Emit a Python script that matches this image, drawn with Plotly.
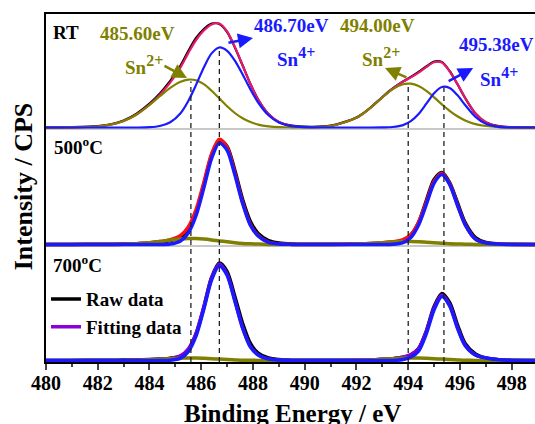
import plotly.graph_objects as go

# ---------------- data (heights above each panel's baseline, arbitrary units) ----------------
energy = [480, 481, 482, 482.5, 483, 483.5, 484, 484.4, 484.8, 485.2, 485.5, 485.8, 486.1, 486.4,
          486.7, 487.0, 487.3, 487.6, 487.9, 488.2, 488.6, 489.0, 489.5, 490, 491, 492, 492.5, 493,
          493.4, 493.8, 494.1, 494.4, 494.7, 495.0, 495.3, 495.6, 495.9, 496.2, 496.6, 497.0, 497.5,
          498, 499]

rt_raw = [0.2, 0.3, 1.3, 3.2, 7.0, 13.8, 23.8, 34.0, 46.5, 62.0,
          76.5, 89.5, 98.5, 104.0, 103.5, 95.5, 80.0, 62.0, 43.5, 28.0,
          13.5, 5.5, 1.8, 0.8, 1.8, 10.0, 19.0, 30.5, 39.0, 46.0,
          50.5, 55.5, 61.0, 66.0, 65.5, 56.5, 43.5, 29.5, 14.0, 5.3,
          1.3, 0.4, 0.2]
rt_fit = [0.0, 0.1, 1.0, 2.8, 6.5, 13.0, 22.8, 32.8, 44.9, 60.1,
          74.4, 87.5, 97.0, 103.0, 104.0, 96.0, 80.5, 62.2, 43.5, 27.9,
          13.4, 5.4, 1.5, 0.4, 1.5, 9.7, 18.8, 30.2, 38.9, 45.7,
          50.1, 54.9, 60.4, 65.2, 65.0, 56.2, 43.6, 29.6, 14.0, 5.2,
          1.1, 0.2, 0.0]
rt_sn2 = [0.0, 0.1, 1.0, 2.8, 6.5, 13.0, 22.5, 31.3, 39.7, 45.8,
          47.9, 47.2, 43.3, 36.8, 29.1, 21.3, 14.5, 9.2, 5.4, 2.9,
          1.2, 0.4, 0.2, 0.1, 1.5, 9.7, 18.8, 30.1, 38.4, 43.3,
          43.8, 41.4, 36.6, 30.1, 23.2, 16.7, 11.2, 7.1, 3.4, 1.5,
          0.4, 0.1, 0.0]
rt_sn4 = [0, 0, 0, 0, 0, 0, 0.3, 1.5, 5.2, 14.3,
          26.5, 42.6, 60.1, 74.1, 80.0, 76.7, 66.9, 53.0, 38.1, 25.0,
          12.2, 5.0, 1.3, 0.3, 0, 0, 0, 0.1, 0.5, 2.4,
          6.3, 13.5, 23.8, 34.3, 40.5, 39.5, 32.4, 22.5, 10.6, 3.7,
          0.7, 0.1, 0]

t500_raw = [0.1, 0.1, 0.2, 0.3, 0.4, 0.8, 1.5, 2.5, 4.0, 7.5,
            15.0, 32.0, 60.0, 89.0, 104.5, 98.0, 74.0, 45.0, 23.0, 11.0,
            4.0, 1.5, 0.5, 0.3, 0.2, 0.4, 0.8, 1.5, 2.2, 4.0,
            9.0, 22.0, 44.0, 65.0, 72.0, 62.0, 42.0, 22.0, 7.0, 2.0,
            0.6, 0.3, 0.1]
t500_fit = [0, 0, 0, 0.1, 0.2, 0.7, 1.7, 2.9, 4.9, 9.1,
            17.6, 35.0, 62.1, 90.7, 105.2, 97.0, 71.5, 42.2, 20.0, 8.9,
            2.3, 0.6, 0.1, 0, 0, 0.4, 1.0, 1.8, 2.7, 4.8,
            10.0, 22.3, 42.4, 63.3, 71.3, 60.9, 40.0, 20.2, 5.4, 1.5,
            0.4, 0.1, 0]
t500_sn2 = [0, 0, 0, 0.1, 0.2, 0.7, 1.7, 2.9, 4.4, 5.5,
            6.0, 5.9, 5.4, 4.6, 3.6, 2.7, 1.8, 1.1, 0.7, 0.4,
            0.1, 0, 0, 0, 0, 0.4, 1.0, 1.8, 2.5, 2.9,
            3.0, 2.8, 2.3, 1.8, 1.3, 0.8, 0.5, 0.3, 0.1, 0,
            0, 0, 0]
t500_sn4 = [0, 0, 0, 0, 0, 0, 0, 0, 0.5, 3.6,
            11.6, 29.1, 56.7, 86.1, 101.6, 94.3, 69.7, 41.1, 19.3, 8.5,
            2.2, 0.6, 0.1, 0, 0, 0, 0, 0, 0.2, 1.9,
            7.0, 19.5, 40.1, 61.5, 70.0, 60.1, 39.5, 19.9, 5.3, 1.5,
            0.4, 0.1, 0]

t700_raw = [0.1, 0.1, 0.2, 0.3, 0.4, 0.6, 0.9, 1.4, 2.3, 4.5,
            11.0, 26.5, 53.0, 83.0, 97.5, 89.0, 64.0, 37.0, 17.0, 7.5,
            2.5, 1.0, 0.3, 0.2, 0.2, 0.3, 0.6, 1.2, 1.8, 3.2,
            5.5, 12.0, 29.5, 54.0, 67.0, 58.0, 36.0, 17.0, 6.5, 2.5,
            0.8, 0.3, 0.1]
t700_fit = [0, 0, 0, 0, 0.1, 0.3, 0.7, 1.2, 2.1, 4.7,
            11.4, 27.1, 53.7, 82.5, 96.4, 86.1, 60.1, 32.7, 13.9, 5.6,
            1.5, 0.4, 0.1, 0, 0, 0.2, 0.6, 1.2, 1.8, 3.3,
            6.0, 11.9, 29.0, 52.6, 65.4, 55.6, 33.3, 15.3, 5.6, 2.5,
            0.7, 0.1, 0]
t700_sn2 = [0, 0, 0, 0, 0.1, 0.3, 0.7, 1.2, 1.8, 2.3,
            2.5, 2.5, 2.2, 1.8, 1.4, 0.9, 0.6, 0.3, 0.2, 0.1,
            0, 0, 0, 0, 0, 0.2, 0.6, 1.2, 1.8, 2.3,
            2.5, 2.5, 2.2, 1.8, 1.4, 0.9, 0.6, 0.3, 0.1, 0,
            0, 0, 0]
t700_sn4 = [0, 0, 0, 0, 0, 0, 0, 0, 0.3, 2.4,
            8.9, 24.6, 51.5, 80.7, 95.0, 85.2, 59.5, 32.4, 13.7, 5.5,
            1.5, 0.4, 0.1, 0, 0, 0, 0, 0, 0, 1.0,
            3.5, 9.4, 26.8, 50.8, 64.0, 54.7, 32.7, 15.0, 5.5, 2.5,
            0.7, 0.1, 0]

peak_energies = [485.60, 486.70, 494.00, 495.38]
peak_species = ["2+", "4+", "2+", "4+"]
peak_heights = [46, 79, 43, 40]          # RT component peak heights (dashed-line tops)
panel_names = ["RT", "500<sup>o</sup>C", "700<sup>o</sup>C"]
x_ticks = [480, 482, 484, 486, 488, 490, 492, 494, 496, 498]

# ---------------- styling / layout constants ----------------
FONT = "Liberation Serif, Times New Roman, serif"
BLACK, OLIVE, BLUE = "#000000", "#808000", "#1a1aff"
FIT_COLORS = ["#e8186e", "#ff1010", "#8c00d4"]
BASES = [234.5, 117.5, 1.5]
WIDTHS = [2.2, 3.5, 3.5]

panels = [
    (rt_raw, rt_fit, rt_sn2, rt_sn4),
    (t500_raw, t500_fit, t500_sn2, t500_sn4),
    (t700_raw, t700_fit, t700_sn2, t700_sn4),
]

fig = go.Figure()

# light grey baselines under RT and 500 panels
for base in BASES[:2]:
    fig.add_trace(go.Scatter(x=[energy[0], energy[-1]], y=[base - 1.5, base - 1.5], mode="lines",
                             line=dict(color="#c8c8c8", width=2), showlegend=False, hoverinfo="skip"))

for i, (raw, fit, sn2, sn4) in enumerate(panels):
    base = BASES[i]
    w = WIDTHS[i]
    def sh(v):
        return [base + a for a in v]
    last = (i == 2)
    fig.add_trace(go.Scatter(x=energy, y=sh(raw), mode="lines", name="Raw data",
                             line=dict(color=BLACK, width=w, shape="spline", smoothing=0.8),
                             showlegend=last))
    fig.add_trace(go.Scatter(x=energy, y=sh(fit), mode="lines", name="Fitting data",
                             line=dict(color=FIT_COLORS[i], width=w, shape="spline", smoothing=0.8),
                             showlegend=last))
    fig.add_trace(go.Scatter(x=energy, y=sh(sn2), mode="lines", name="Sn2+",
                             line=dict(color=OLIVE, width=w, shape="spline", smoothing=0.8),
                             showlegend=False))
    fig.add_trace(go.Scatter(x=energy, y=sh(sn4), mode="lines", name="Sn4+",
                             line=dict(color=BLUE, width=w, shape="spline", smoothing=0.8),
                             showlegend=False))

# dashed guide lines at the fitted peak positions
for e, h in zip(peak_energies, peak_heights):
    fig.add_trace(go.Scatter(x=[e, e], y=[0, BASES[0] + h], mode="lines",
                             line=dict(color="#222222", width=1.3, dash="5px,4px"),
                             showlegend=False, hoverinfo="skip"))

ann = []
lab_font = dict(family=FONT, size=19, weight="bold")
# panel names
ann.append(dict(x=480.78, y=330, text="<b>RT</b>", showarrow=False, font=dict(lab_font, color=BLACK)))
ann.append(dict(x=481.24, y=216, text=f"<b>{panel_names[1]}</b>", showarrow=False, font=dict(lab_font, color=BLACK)))
ann.append(dict(x=481.20, y=98, text=f"<b>{panel_names[2]}</b>", showarrow=False, font=dict(lab_font, color=BLACK)))

# peak energy labels
ev_pos = [(483.52, 329, "center"), (489.49, 337, "center"), (492.81, 337, "center"), (495.90, 318, "left")]
sn_pos = [(482.98, 297), (488.85, 305), (492.14, 305), (496.70, 285)]
for k, e in enumerate(peak_energies):
    col = OLIVE if peak_species[k] == "2+" else BLUE
    x, y, anc = ev_pos[k]
    ann.append(dict(x=x, y=y, text=f"<b>{e:.2f}eV</b>", showarrow=False, xanchor=anc, yanchor="middle",
                    font=dict(lab_font, color=col)))
    sx, sy = sn_pos[k]
    ann.append(dict(x=sx, y=sy,
                    text=f"<b>Sn<sup><span style='font-size:16px'>{peak_species[k]}</span></sup></b>",
                    showarrow=False, xanchor="left", yanchor="middle", font=dict(lab_font, color=col)))

# arrows
arrows = [(485.45, 284, -24, -13, OLIVE), (488.0, 324, -26, 5, BLUE),
          (493.10, 294, 23, 10, OLIVE), (496.51, 294, -26, 14, BLUE)]
for x, y, ax, ay, col in arrows:
    ann.append(dict(x=x, y=y, ax=ax, ay=ay, text="", showarrow=True, arrowhead=2,
                    arrowsize=1.2, arrowwidth=2.5, arrowcolor=col, standoff=0))

# axis titles
ann.append(dict(xref="paper", yref="paper", x=-0.047, y=0.505, xanchor="center", yanchor="middle",
                text="<b>Intensity / CPS</b>", textangle=-90, showarrow=False,
                font=dict(family=FONT, size=26, weight="bold", color=BLACK)))
ann.append(dict(xref="paper", yref="paper", x=0.505, y=-0.147, xanchor="center", yanchor="middle",
                text="<b>Binding Energy / eV</b>", showarrow=False,
                font=dict(family=FONT, size=25, weight="bold", color=BLACK)))

fig.update_layout(
    width=535, height=424,
    margin=dict(l=46, r=0, t=14, b=62),
    paper_bgcolor="white", plot_bgcolor="white",
    font=dict(family=FONT, size=19, weight="bold", color=BLACK),
    annotations=ann,
    legend=dict(x=0.0, y=0.235, xanchor="left", yanchor="top", bgcolor="rgba(0,0,0,0)",
                font=dict(family=FONT, size=19, weight="bold"), tracegroupgap=0, itemwidth=30),
    xaxis=dict(range=[480, 498.9], showline=True, linecolor=BLACK, linewidth=2, mirror=True,
               ticks="outside", ticklen=6, tickwidth=2, tickvals=x_ticks,
               ticktext=[f"<b>{v}</b>" for v in x_ticks], showgrid=False,
               zeroline=False, ticklabelstandoff=-4,
               tickfont=dict(family=FONT, size=20, weight="bold"),
               minor=dict(ticks="outside", ticklen=3, tickwidth=1.5, dtick=1, tick0=480, showgrid=False)),
    yaxis=dict(range=[0, 348], showline=True, linecolor=BLACK, linewidth=2, mirror=False,
               ticks="", showticklabels=False, showgrid=False, zeroline=False),
    showlegend=True,
)

fig.write_html("out.html", config={"displayModeBar": False},
               post_script="document.body.style.margin='0px';document.body.style.overflow='hidden';")
